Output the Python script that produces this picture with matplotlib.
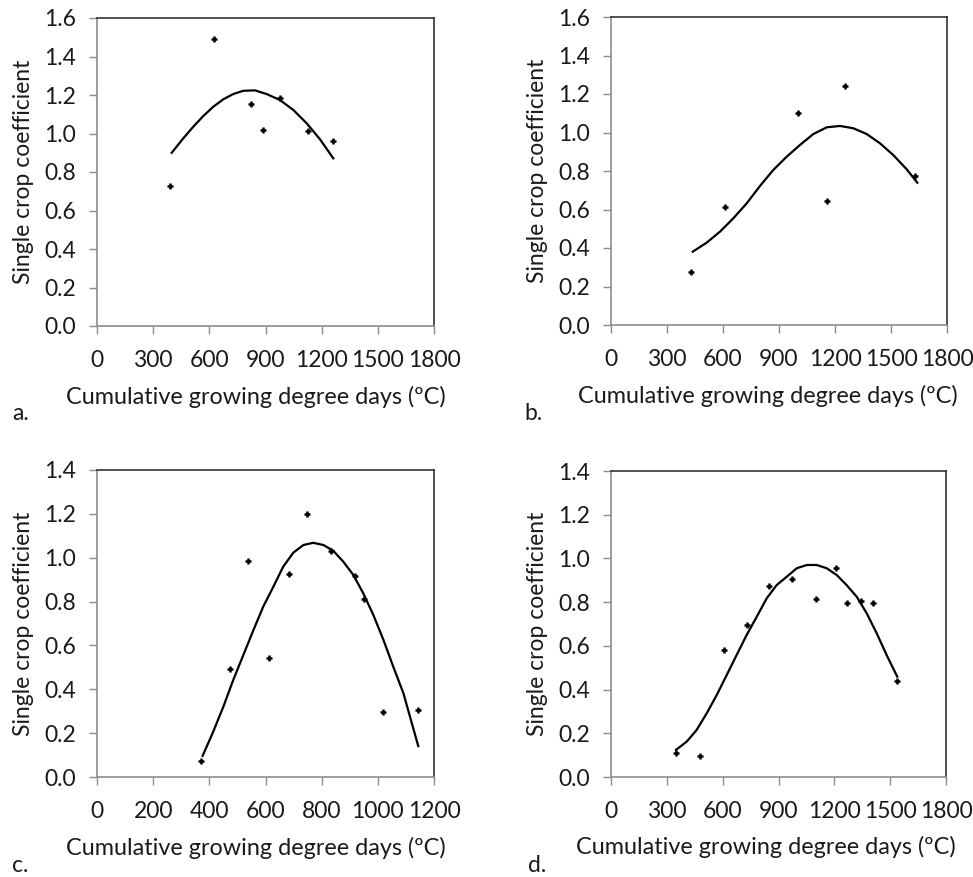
import numpy as np
import matplotlib
matplotlib.use("Agg")
import matplotlib.pyplot as plt

plt.rcParams['font.family'] = ['Lato', 'DejaVu Sans']

XLABEL = "Cumulative growing degree days (\u00baC)"
YLABEL = "Single crop coefficient"

# panel a
a_x = [390, 627, 821, 886, 975, 1128, 1263]
a_y = [0.727, 1.490, 1.151, 1.019, 1.186, 1.014, 0.963]
a_fit_x = [399, 461, 514, 568, 621, 675, 728, 781, 844, 906, 977, 1049, 1120, 1191, 1262]
a_fit_y = [0.900, 0.975, 1.035, 1.091, 1.139, 1.178, 1.205, 1.222, 1.224, 1.205, 1.174,
           1.122, 1.053, 0.970, 0.871]
a_xticks = [0, 300, 600, 900, 1200, 1500, 1800]
a_yticks = [0.0, 0.2, 0.4, 0.6, 0.8, 1.0, 1.2, 1.4, 1.6]

# panel b
b_x = [429, 611, 1003, 1158, 1256, 1629]
b_y = [0.277, 0.612, 1.102, 0.643, 1.241, 0.775]
b_fit_x = [438, 513, 584, 655, 727, 798, 869, 941, 1012, 1084, 1156, 1227, 1298, 1370,
           1441, 1512, 1584, 1641]
b_fit_y = [0.381, 0.428, 0.485, 0.554, 0.632, 0.722, 0.805, 0.874, 0.935, 0.992, 1.027,
           1.034, 1.022, 0.992, 0.944, 0.883, 0.809, 0.739]
b_xticks = [0, 300, 600, 900, 1200, 1500, 1800]
b_yticks = [0.0, 0.2, 0.4, 0.6, 0.8, 1.0, 1.2, 1.4, 1.6]

# panel c
c_x = [372, 475, 537, 612, 683, 747, 835, 920, 952, 1019, 1143]
c_y = [0.075, 0.493, 0.983, 0.543, 0.924, 1.199, 1.030, 0.916, 0.810, 0.297, 0.306]
c_fit_x = [376, 414, 450, 485, 521, 557, 592, 628, 663, 699, 735, 770, 806, 841, 877,
           913, 948, 984, 1020, 1055, 1091, 1144]
c_fit_y = [0.096, 0.207, 0.321, 0.442, 0.556, 0.670, 0.777, 0.868, 0.959, 1.023, 1.058,
           1.068, 1.058, 1.032, 0.982, 0.921, 0.838, 0.739, 0.625, 0.503, 0.382, 0.141]
c_xticks = [0, 200, 400, 600, 800, 1000, 1200]
c_yticks = [0.0, 0.2, 0.4, 0.6, 0.8, 1.0, 1.2, 1.4]

# panel d
d_x = [351, 479, 605, 733, 848, 975, 1100, 1208, 1267, 1344, 1408, 1537]
d_y = [0.110, 0.097, 0.581, 0.697, 0.875, 0.907, 0.816, 0.954, 0.797, 0.807, 0.797, 0.441]
d_fit_x = [349, 407, 460, 514, 568, 622, 675, 729, 783, 837, 890, 944, 998, 1052, 1105,
           1159, 1213, 1266, 1320, 1374, 1428, 1481, 1538]
d_fit_y = [0.124, 0.162, 0.215, 0.291, 0.375, 0.467, 0.558, 0.650, 0.733, 0.818, 0.878,
           0.916, 0.955, 0.970, 0.970, 0.955, 0.924, 0.878, 0.825, 0.749, 0.657, 0.558, 0.459]
d_xticks = [0, 300, 600, 900, 1200, 1500, 1800]
d_yticks = [0.0, 0.2, 0.4, 0.6, 0.8, 1.0, 1.2, 1.4]

W, H = 973, 877
fig = plt.figure(figsize=(W / 100, H / 100), dpi=100)

TXT = '#1a1a1a'
GRAY = '#8c8c8c'
FS = 16.5


def make_panel(box, xs, ys, fx, fy, xticks, yticks, letter, letter_pos, xlabel_pos, ylabel_x):
    l, t, r, b = box
    ax = fig.add_axes([l / W, 1 - b / H, (r - l) / W, (b - t) / H])
    ax.plot(fx, fy, color='black', lw=1.6, zorder=2, solid_joinstyle='round')
    ax.plot(xs, ys, linestyle='none', marker='+', ms=5, mew=1.8, color='black', zorder=3)
    ax.set_xlim(xticks[0], xticks[-1])
    ax.set_ylim(yticks[0], yticks[-1])
    ax.set_xticks(xticks)
    ax.set_yticks(yticks)
    ax.set_yticklabels([f"{v:.1f}" for v in yticks])
    ax.tick_params(direction='out', length=6, width=1, color=GRAY,
                   labelsize=FS, labelcolor=TXT)
    ax.tick_params(axis='y', pad=9)
    ax.tick_params(axis='x', pad=11)
    for s in ['top', 'right']:
        ax.spines[s].set_color('#333333')
        ax.spines[s].set_linewidth(1.2)
    for s in ['left', 'bottom']:
        ax.spines[s].set_color(GRAY)
        ax.spines[s].set_linewidth(1.2)
    ax.set_ylabel(YLABEL, fontsize=FS, color=TXT)
    ax.yaxis.set_label_coords((ylabel_x - l) / (r - l), 0.5)
    fig.text(xlabel_pos[0] / W, 1 - xlabel_pos[1] / H, XLABEL, fontsize=FS + 0.3, color=TXT,
             ha='center', va='center')
    fig.text(letter_pos[0] / W, 1 - letter_pos[1] / H, letter, fontsize=FS, color=TXT,
             ha='left', va='center')
    return ax


make_panel((97, 18, 434, 326), a_x, a_y, a_fit_x, a_fit_y, a_xticks, a_yticks,
           'a.', (12, 414), (256, 397), 34)
make_panel((611, 17, 947, 325), b_x, b_y, b_fit_x, b_fit_y, b_xticks, b_yticks,
           'b.', (524, 414), (768, 396), 548)
make_panel((97, 470, 434, 777), c_x, c_y, c_fit_x, c_fit_y, c_xticks, c_yticks,
           'c.', (12, 866), (256, 848), 34)
make_panel((611, 471, 946, 777), d_x, d_y, d_fit_x, d_fit_y, d_xticks, d_yticks,
           'd.', (528, 866), (766, 847), 548)

fig.savefig('out.png', dpi=100, facecolor='white')
